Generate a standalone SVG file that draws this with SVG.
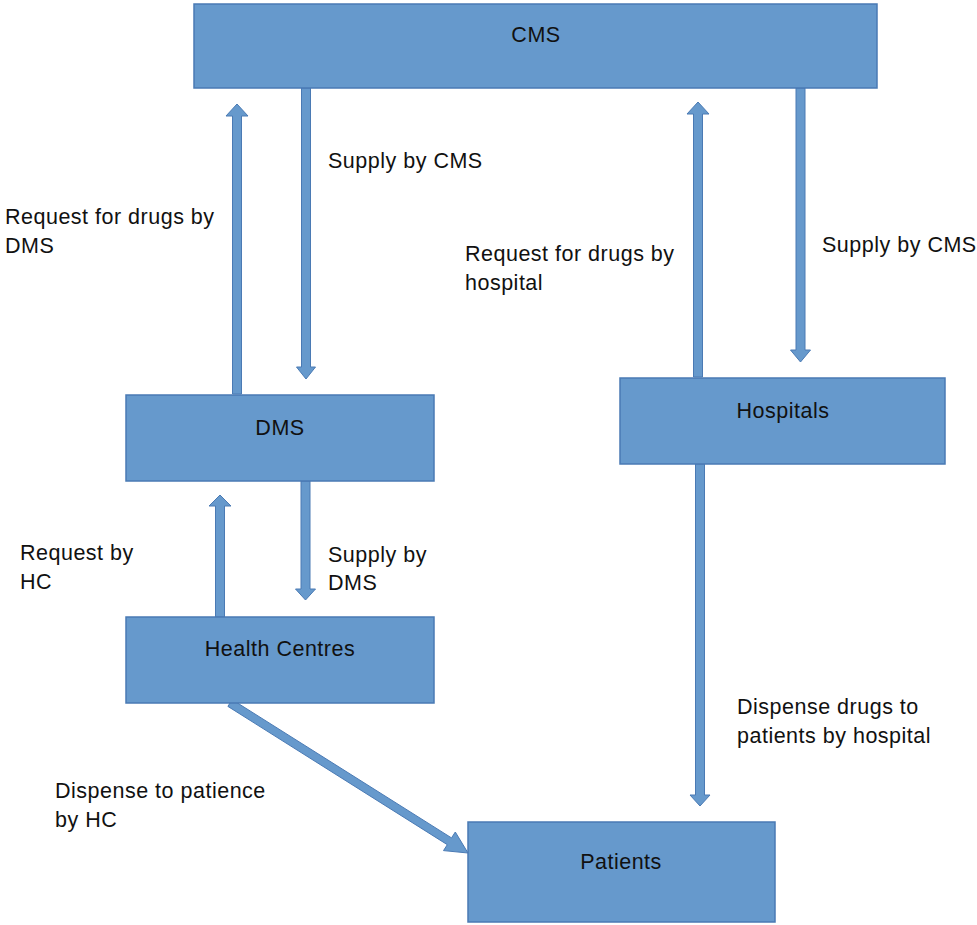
<svg xmlns="http://www.w3.org/2000/svg" width="977" height="925" viewBox="0 0 977 925">
<style>
.box{fill:#6699cc;stroke:#4a7ab4;stroke-width:1.5}
.arr{fill:#6699cc;stroke:#4a7ab4;stroke-width:1}
text{font-family:"Liberation Sans",Arial,sans-serif;font-size:21.5px;fill:#111;letter-spacing:0.5px}
.c{text-anchor:middle}
</style>
<rect width="977" height="925" fill="#fff"/>
<g id="connectors">
<polygon class="arr" points="232.5,394 232.5,116 226,116 237,104 248,116 241.5,116 241.5,394"/>
<polygon class="arr" points="301.5,88 301.5,367 296.5,367 306,379 315.5,367 310.5,367 310.5,88"/>
<polygon class="arr" points="693.5,377 693.5,114 687,114 698,102 709,114 702.5,114 702.5,377"/>
<polygon class="arr" points="796,88 796,350 790.5,350 800.5,362 810.5,350 805,350 805,88"/>
<polygon class="arr" points="301,481 301,589 295.5,589 305.5,600 315.5,589 310,589 310,481"/>
<polygon class="arr" points="215.5,617 215.5,506 209,506 220,495 231,506 224.5,506 224.5,617"/>
<polygon class="arr" points="695.5,464 695.5,795 690,795 700,806 710,795 704.5,795 704.5,464"/>
<polygon class="arr" points="227.9,706.4 447.3,844.7 443.5,850.6 468,853 455.3,832 451.5,837.9 232.1,699.6"/>
</g>
<g id="cms"><rect class="box" x="194" y="4" width="683" height="84"/><text class="c" x="536" y="42">CMS</text></g>
<g id="dms"><rect class="box" x="126" y="395" width="308" height="86"/><text class="c" x="280" y="435">DMS</text></g>
<g id="hospitals"><rect class="box" x="620" y="378" width="325" height="86"/><text class="c" x="783" y="418">Hospitals</text></g>
<g id="health-centres"><rect class="box" x="126" y="617" width="308" height="86"/><text class="c" x="280" y="656">Health Centres</text></g>
<g id="patients"><rect class="box" x="468" y="822" width="307" height="100"/><text class="c" x="621" y="869">Patients</text></g>
<g id="labels">
<text x="328" y="168">Supply by CMS</text>
<text x="5" y="224">Request for drugs by</text>
<text x="5" y="253">DMS</text>
<text x="465" y="261">Request for drugs by</text>
<text x="465" y="290">hospital</text>
<text x="822" y="252">Supply by CMS</text>
<text x="20" y="560">Request by</text>
<text x="20" y="589">HC</text>
<text x="328" y="562">Supply by</text>
<text x="328" y="590">DMS</text>
<text x="737" y="714">Dispense drugs to</text>
<text x="737" y="743">patients by hospital</text>
<text x="55" y="798">Dispense to patience</text>
<text x="55" y="827">by HC</text>
</g>
</svg>
